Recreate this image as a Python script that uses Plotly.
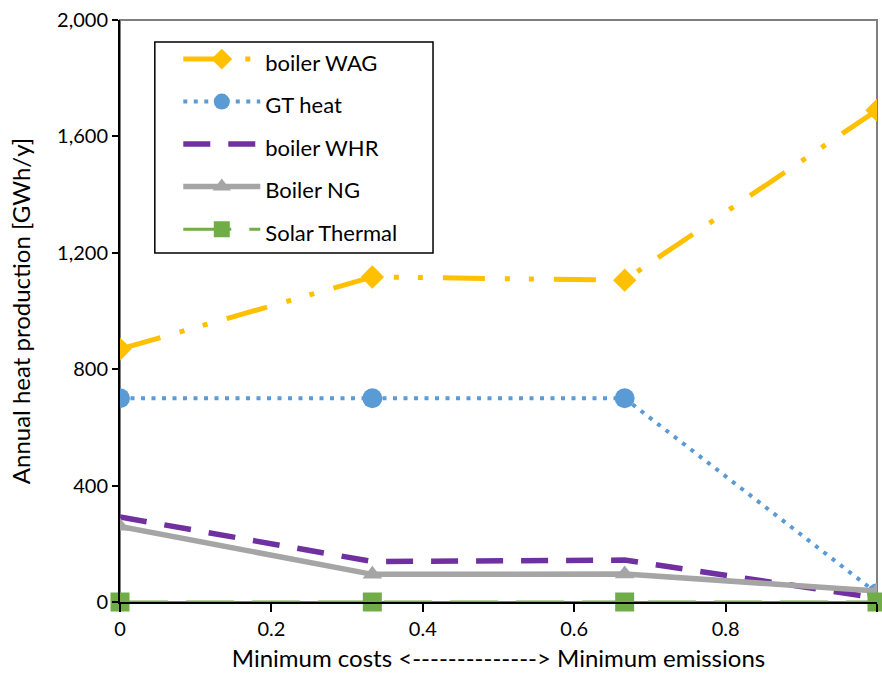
import plotly.graph_objects as go

# Pareto position between minimum-cost and minimum-emission solutions
x_pos = [0, 1/3, 2/3, 1]

# Annual heat production per technology [GWh/y]
boiler_wag = [869, 1117, 1106, 1690]
gt_heat = [700, 700, 700, 30]
boiler_whr = [292, 139, 144, 14]
boiler_ng = [260, 95, 96, 38]
solar_thermal = [0, 0, 0, 0]

series_names = ["boiler WAG", "GT heat", "boiler WHR", "Boiler NG", "Solar Thermal"]

y_ticks = [0, 400, 800, 1200, 1600, 2000]
x_ticks = [0, 0.2, 0.4, 0.6, 0.8, 1]
x_tick_text = ["0", "0.2", "0.4", "0.6", "0.8", "1"]

FONT = "Lato"
LEGEND_TEXT_SIZE = 22


def legend_label(name):
    # legend rows get their height from the legend font; the visible text is sized here
    return f'<span style="font-size:{LEGEND_TEXT_SIZE}px">{name}</span>'


fig = go.Figure()

fig.add_trace(go.Scatter(
    x=x_pos, y=boiler_wag, name=legend_label(series_names[0]), mode="lines+markers",
    line=dict(color="#FFC000", width=5, dash="42px,20px,5px,19px,5px,20px"),
    marker=dict(symbol="diamond", size=18, color="#FFC000"),
))
fig.add_trace(go.Scatter(
    x=x_pos, y=gt_heat, name=legend_label(series_names[1]), mode="lines+markers",
    line=dict(color="#5B9BD5", width=4, dash="4px,6.5px"),
    marker=dict(symbol="circle", size=20, color="#5B9BD5"),
))
fig.add_trace(go.Scatter(
    x=x_pos, y=boiler_whr, name=legend_label(series_names[2]), mode="lines",
    line=dict(color="#7030A0", width=5.5, dash="27px,18px"),
))
fig.add_trace(go.Scatter(
    x=x_pos, y=boiler_ng, name=legend_label(series_names[3]), mode="lines+markers",
    line=dict(color="#A5A5A5", width=5.5),
    marker=dict(symbol="triangle-up", size=17, color="#A5A5A5"),
))
fig.add_trace(go.Scatter(
    x=x_pos, y=solar_thermal, name=legend_label(series_names[4]), mode="lines+markers",
    line=dict(color="#70AD47", width=3, dash="48px,18px"),
    marker=dict(symbol="square", size=19, color="#70AD47"),
    cliponaxis=False,
))

# grey frame on top and right sides of the plot area
fig.add_shape(type="rect", xref="paper", yref="paper", x0=0, y0=0, x1=1, y1=1,
              line=dict(color="#7F7F7F", width=2), layer="below")
# legend frame
fig.add_shape(type="rect", xref="paper", yref="paper",
              x0=0.046, y0=0.5997, x1=0.4135, y1=0.962,
              line=dict(color="#000000", width=1.5), fillcolor="white", layer="below")

fig.update_layout(
    width=882, height=679,
    margin=dict(l=120, r=5, t=20, b=77),
    paper_bgcolor="white", plot_bgcolor="white",
    font=dict(family=FONT, size=20, color="#000000"),
    showlegend=True,
    legend=dict(
        x=0.077, y=0.978, xanchor="left", yanchor="top",
        bgcolor="rgba(0,0,0,0)", borderwidth=0,
        font=dict(family=FONT, size=30.4, color="#000000"),
        itemwidth=77, tracegroupgap=0,
    ),
    xaxis=dict(
        range=[0, 1], tickvals=x_ticks, ticktext=x_tick_text,
        showgrid=False, zeroline=False, showline=True, linecolor="#000000", linewidth=2,
        ticks="outside", ticklen=8, tickwidth=1.5, tickcolor="#000000",
        title=dict(text="Minimum costs <--------------> Minimum emissions",
                   font=dict(family=FONT, size=24), standoff=11),
        tickfont=dict(family=FONT, size=20),
    ),
    yaxis=dict(
        range=[0, 2000], tickvals=y_ticks, tickformat=",d",
        showgrid=False, zeroline=False, showline=True, linecolor="#000000", linewidth=2,
        ticks="outside", ticklen=6, tickwidth=1.5, tickcolor="#000000",
        title=dict(text="Annual heat production [GWh/y]",
                   font=dict(family=FONT, size=24), standoff=20),
        tickfont=dict(family=FONT, size=20),
    ),
)

fig.write_html("out.html")
